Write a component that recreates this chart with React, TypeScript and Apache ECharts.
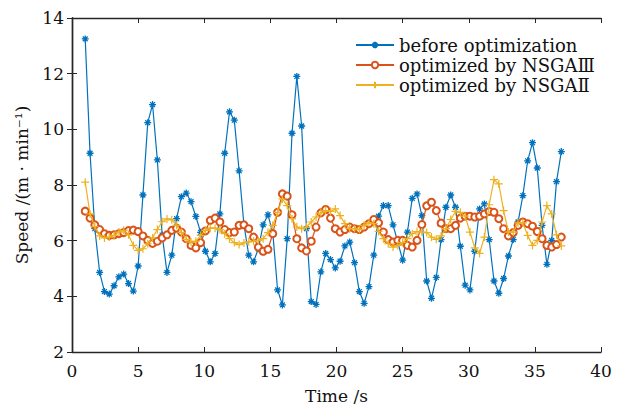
import React, { useEffect, useRef } from "react";
import * as echarts from "echarts";

const startTime = 1;
const endTime = 37;

const beforeOpt = [
  13.25, 9.14, 6.43, 4.86, 4.17, 4.08, 4.38, 4.7, 4.8, 4.46,
  4.19, 5.09, 7.64, 10.24, 10.89, 8.9, 6.2, 4.86, 5.48, 6.79,
  7.58, 7.71, 7.4, 6.87, 6.3, 5.62, 5.24, 5.54, 6.96, 9.14,
  10.63, 10.33, 8.51, 6.58, 5.48, 5.24, 5.71, 6.57, 6.93, 6.29,
  4.23, 3.69, 6.07, 9.86, 11.9, 10.12, 6.43, 3.81, 3.71, 4.88,
  5.54, 5.32, 5.02, 5.26, 5.81, 5.95, 5.21, 4.17, 3.75, 4.35,
  5.48, 6.88, 7.26, 7.26, 6.57, 5.95, 5.3, 6.31, 7.52, 7.68,
  6.9, 4.55, 3.93, 4.68, 6.04, 7.2, 7.64, 7.2, 5.8, 4.4,
  4.23, 5.62, 7.14, 7.32, 6.04, 4.55, 4.11, 4.64, 5.45, 6.04,
  6.67, 7.62, 8.87, 9.52, 8.61, 6.55, 5.15, 6.01, 8.12, 9.2,
];

const nsga3 = [
  7.06, 6.81, 6.57, 6.4, 6.25, 6.19, 6.21, 6.25, 6.29, 6.36,
  6.38, 6.33, 6.17, 6.01, 5.9, 5.98, 6.1, 6.21, 6.37, 6.45,
  6.31, 6.07, 5.83, 5.74, 5.93, 6.35, 6.73, 6.81, 6.67, 6.4,
  6.29, 6.31, 6.55, 6.57, 6.43, 6.13, 5.77, 5.62, 5.69, 6.25,
  7.02, 7.68, 7.6, 6.93, 6.07, 5.74, 5.63, 5.98, 6.49, 7.0,
  7.12, 6.81, 6.43, 6.31, 6.4, 6.49, 6.43, 6.4, 6.49, 6.61,
  6.76, 6.64, 6.31, 6.04, 5.95, 6.01, 6.01, 5.83, 5.77, 6.01,
  6.58, 7.25, 7.38, 7.08, 6.63, 6.43, 6.43, 6.55, 6.81, 6.88,
  6.88, 6.85, 6.88, 6.96, 7.05, 7.02, 6.79, 6.43, 6.17, 6.29,
  6.55, 6.67, 6.61, 6.52, 6.33, 6.07, 5.83, 5.77, 5.86, 6.13,
];

const nsga2 = [
  8.1, 6.96, 6.5, 6.17, 6.1, 6.13, 6.19, 6.31, 6.37, 6.21,
  5.83, 5.65, 5.71, 5.89, 6.1, 6.4, 6.68, 6.78, 6.75, 6.55,
  6.3, 6.05, 5.95, 5.98, 6.19, 6.37, 6.45, 6.45, 6.4, 6.25,
  6.07, 5.93, 5.86, 5.92, 5.96, 5.98, 6.01, 6.07, 6.29, 6.55,
  7.02, 7.5, 7.26, 6.79, 6.49, 6.43, 6.49, 6.67, 6.85, 7.0,
  7.08, 7.05, 7.14, 6.9, 6.61, 6.43, 6.43, 6.4, 6.55, 6.64,
  6.61, 6.33, 6.07, 5.89, 5.77, 5.83, 5.93, 6.07, 6.25, 6.33,
  6.31, 6.29, 6.13, 6.05, 6.17, 6.43, 6.76, 7.05, 7.02, 6.88,
  6.31, 5.74, 5.54, 6.13, 7.29, 8.19, 8.04, 7.08, 6.31, 6.31,
  6.64, 6.64, 6.19, 5.83, 6.01, 6.67, 7.26, 6.96, 6.21, 5.81,
];

const seriesNames = ["before optimization", "optimized by NSGA\u2162", "optimized by NSGA\u2161"];
const xTicks = { min: 0, max: 40, interval: 5 };
const yTicks = { min: 2, max: 14, interval: 2 };

const FONT = "DejaVu Serif";
const TEXT = "#111111";

function toPairs(vals: number[]) {
  const n = vals.length;
  return vals.map((v, i) => [startTime + ((endTime - startTime) * i) / (n - 1), v]);
}

export default function App() {
  const ref = useRef<HTMLDivElement>(null);
  useEffect(() => {
    if (!ref.current) return;
    const chart = echarts.init(ref.current, undefined, { renderer: "svg" });
    const axisLine = { show: true, lineStyle: { color: "#262626", width: 1.4 } };
    const tick = { show: true, inside: true, length: 5, lineStyle: { color: "#262626", width: 1 } };
    const label = { color: TEXT, fontFamily: FONT, fontSize: 17 };
    const star = "path://M5 0 L5 10 M0 5 L10 5 M1.5 1.5 L8.5 8.5 M1.5 8.5 L8.5 1.5";
    const plus = "path://M5 0 L5 10 M0 5 L10 5";
    chart.setOption({
      animation: false,
      backgroundColor: "#ffffff",
      grid: { left: 72, right: 21, top: 18, bottom: 55 },
      legend: {
        left: 355,
        top: 36,
        padding: 0,
        orient: "vertical",
        itemWidth: 38,
        itemHeight: 8,
        itemGap: 2,
        textStyle: { color: TEXT, fontFamily: FONT, fontSize: 18 },
        data: seriesNames,
      },
      xAxis: [
        {
          type: "value",
          ...xTicks,
          name: "Time /s",
          nameLocation: "middle",
          nameGap: 35,
          nameTextStyle: { color: TEXT, fontFamily: FONT, fontSize: 17 },
          axisLine,
          axisTick: tick,
          axisLabel: { ...label, margin: 10 },
          splitLine: { show: false },
        },
        {
          type: "value",
          ...xTicks,
          position: "top",
          axisLine,
          axisTick: tick,
          axisLabel: { show: false },
          splitLine: { show: false },
        },
      ],
      yAxis: [
        {
          type: "value",
          ...yTicks,
          name: "Speed /(m \u00b7 min\u207b\u00b9)",
          nameLocation: "middle",
          nameGap: 42,
          nameTextStyle: { color: TEXT, fontFamily: FONT, fontSize: 17 },
          axisLine,
          axisTick: tick,
          axisLabel: { ...label, margin: 8 },
          splitLine: { show: false },
        },
        {
          type: "value",
          ...yTicks,
          position: "right",
          axisLine,
          axisTick: tick,
          axisLabel: { show: false },
          splitLine: { show: false },
        },
      ],
      series: [
        {
          name: seriesNames[0],
          type: "line",
          data: toPairs(beforeOpt),
          symbol: star,
          symbolSize: 7,
          lineStyle: { color: "#0072BD", width: 1.2 },
          itemStyle: { color: "#0072BD", borderColor: "#0072BD", borderWidth: 1.3 },
          z: 2,
        },
        {
          name: seriesNames[1],
          type: "line",
          data: toPairs(nsga3),
          symbol: "emptyCircle",
          symbolSize: 7,
          lineStyle: { color: "#D95319", width: 1.2 },
          itemStyle: { color: "#D95319", borderColor: "#D95319", borderWidth: 1 },
          z: 3,
        },
        {
          name: seriesNames[2],
          type: "line",
          data: toPairs(nsga2),
          symbol: plus,
          symbolSize: 8,
          lineStyle: { color: "#EDB120", width: 1.2 },
          itemStyle: { color: "#EDB120", borderColor: "#EDB120", borderWidth: 1.2 },
          z: 4,
        },
      ],
    });
    return () => chart.dispose();
  }, []);
  return (
    <div
      ref={ref}
      style={{ position: "fixed", left: 0, top: 0, width: 622, height: 409, background: "#fff" }}
    />
  );
}
